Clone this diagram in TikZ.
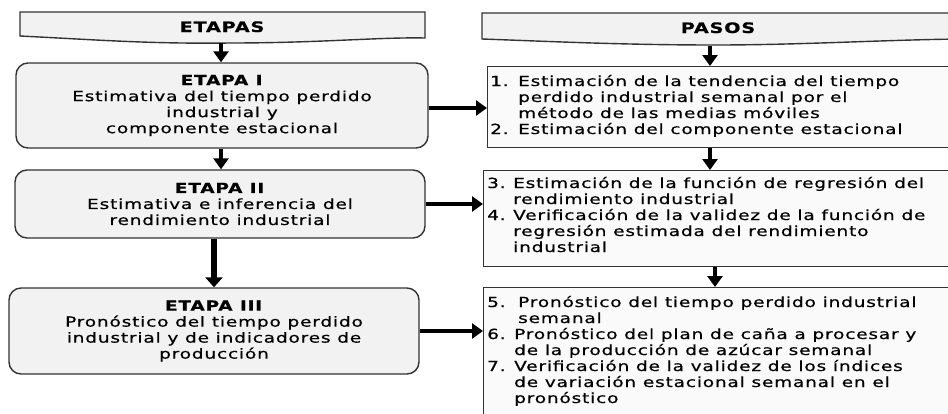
\documentclass[tikz,border=0pt]{standalone}
\usepackage{fontspec}
\setmainfont{DejaVu Sans}[FakeStretch=1.33, LetterSpace=6, FakeBold=0.6]
\usetikzlibrary{arrows.meta}
\definecolor{boxfill}{HTML}{F2F2F2}
\definecolor{pfill}{HTML}{FAFAFA}
\definecolor{edge}{HTML}{333333}
\tikzset{
  txt/.style={font=\fontsize{13.9}{16}\selectfont, text=black},
  hdr/.style={draw=edge, line width=1.4pt, fill=boxfill},
  hdrtext/.style={txt, font=\fontsize{14.4}{16}\selectfont\bfseries, anchor=base, inner sep=0pt},
  lbox/.style={txt, draw=edge, line width=1.4pt, fill=boxfill, rounded corners=12pt, align=center, inner sep=0pt},
  rbox/.style={draw=edge, line width=1.4pt, fill=pfill, inner sep=0pt, anchor=north west},
  rtext/.style={txt, anchor=base west, inner sep=0pt},
  arr/.style={line width=4.5pt, -{Triangle[length=11pt,width=15pt]}},
  arrthick/.style={line width=5.5pt, -{Triangle[length=10pt,width=17pt]}}
}
\begin{document}
\begin{tikzpicture}[x=1pt,y=-1pt]
\useasboundingbox (0,0) rectangle (948,413);
\clip (0,0) rectangle (948,413);
% headers
\draw[hdr] (20,12) -- (425,12) -- (425,38) .. controls (380,37) and (320,43) .. (230,43) .. controls (150,44) and (100,40) .. (20,36) -- cycle;
\node[hdrtext] (hE) at (222,32) {ETAPAS};
\draw[hdr] (482,13) -- (960,13) -- (960,39) .. controls (880,40) and (800,45) .. (715,45) .. controls (620,45) and (540,41) .. (482,39) -- cycle;
\node[hdrtext] (hP) at (718,33) {PASOS};
\coordinate (hEb) at (221,43);
\coordinate (hPb) at (710,46);
% left boxes
\node[lbox, minimum width=412pt, minimum height=85pt] (e1) at (222,105.5)
  {\textbf{ETAPA I}\\Estimativa del tiempo perdido\\industrial y\\componente estacional};
\node[lbox, minimum width=410pt, minimum height=68pt] (e2) at (220,204)
  {\textbf{ETAPA II}\\Estimativa e inferencia del\\rendimiento industrial};
\node[lbox, minimum width=410pt, minimum height=86pt] (e3) at (214,331)
  {\textbf{ETAPA III}\\Pronóstico del tiempo perdido\\industrial y de indicadores de\\producción};
% right boxes
\node[rbox, minimum width=480pt, minimum height=81pt] (b1) at (487,66) {};
\node[rtext] (t1) at (490,86) {\begin{tabular}[t]{@{}l@{}l@{}}
\makebox[28pt][l]{1.} & Estimación de la tendencia del tiempo\\
 & perdido industrial semanal por el\\
 & método de las medias móviles\\
\makebox[28pt][l]{2.} & Estimación del componente estacional
\end{tabular}};
\node[rbox, minimum width=480pt, minimum height=96pt] (b2) at (483,170) {};
\node[rtext] (t2) at (487,188) {\begin{tabular}[t]{@{}l@{}l@{}}
\makebox[26pt][l]{3.} & Estimación de la función de regresión del\\
 & rendimiento industrial\\
\makebox[26pt][l]{4.} & Verificación de la validez de la función de\\
 & regresión estimada del rendimiento\\
 & industrial
\end{tabular}};
\node[rbox, minimum width=480pt, minimum height=150pt] (b3) at (483,287) {};
\node[rtext] (t3) at (487,307) {\begin{tabular}[t]{@{}l@{}l@{}}
\makebox[27pt][l]{5.} & \hspace{4pt}Pronóstico del tiempo perdido industrial\\
 & \hspace{4pt}semanal\\
\makebox[27pt][l]{6.} & Pronóstico del plan de caña a procesar y\\
 & de la producción de azúcar semanal\\
\makebox[27pt][l]{7.} & Verificación de la validez de los índices\\
 & de variación estacional semanal en el\\
 & pronóstico
\end{tabular}};
% arrows
\draw[arr] (hEb) -- (hEb |- e1.north);
\draw[arr] (hPb) -- (hPb |- b1.north);
\draw[arr] (e1.south -| hEb) -- (hEb |- e2.north);
\draw[arrthick] (e3.north |- e2.south) -- (e3.north);
\draw[arr] (hPb |- b1.south) -- (hPb |- b2.north);
\draw[arr] (715,0 |- b2.south) -- (715,0 |- b3.north);
\draw[arr] (e1.east |- 0,108) -- (b1.west |- 0,108);
\draw[arr] (e2.east |- 0,204) -- (b2.west |- 0,204);
\draw[arr] (e3.east |- 0,331) -- (b3.west |- 0,331);
\end{tikzpicture}
\end{document}
